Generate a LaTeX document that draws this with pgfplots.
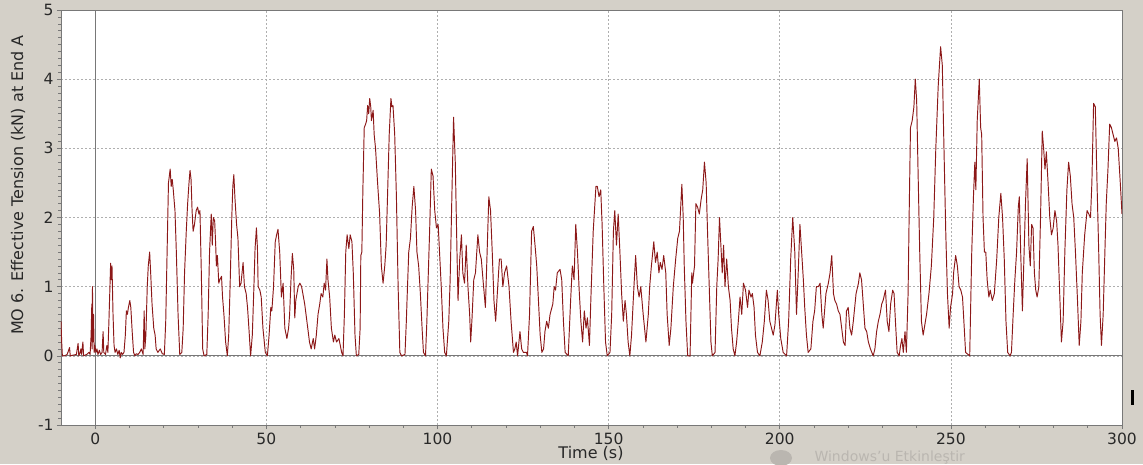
\documentclass[border=0pt]{standalone}
\usepackage{pgfplots}
\pgfplotsset{compat=1.18}
\usepackage{fontspec}
\setmainfont{DejaVu Sans}
\definecolor{panel}{RGB}{212,208,200}
\definecolor{trace}{RGB}{140,24,24}
\definecolor{frame}{RGB}{120,120,120}
\definecolor{gridc}{RGB}{175,175,175}
\definecolor{txt}{RGB}{40,40,40}
\definecolor{overlaygrey}{RGB}{186,182,176}

\begin{document}
\begin{tikzpicture}
% window panel
\clip (0pt,0pt) rectangle (1143pt,464pt);
\fill[panel] (0pt,0pt) rectangle (1143pt,464pt);

\begin{axis}[
  scale only axis,
  width=1061pt, height=415pt,
  at={(61pt,39pt)}, anchor=south west,
  xmin=-10, xmax=300, ymin=-1, ymax=5,
  axis background/.style={fill=white},
  axis line style={frame, line width=0.8pt},
  xtick={0,50,...,300},
  ytick={-1,0,...,5},
  minor x tick num=4,
  minor y tick num=9,
  tick align=outside,
  major tick length=4pt,
  minor tick length=2.5pt,
  tick style={frame, line width=0.6pt},
  xtick pos=bottom, ytick pos=left,
  grid=major,
  major grid style={gridc, dash pattern=on 2pt off 2pt, line width=0.6pt},
  tick label style={font=\fontsize{15.5}{17}\selectfont, text=txt},
  /pgf/number format/assume math mode=true,
  xticklabel style={yshift=0pt},
  yticklabel style={xshift=0pt},
  clip=true,
]
% reference lines through the origin
\draw[frame, line width=0.8pt] (axis cs:-10,0) -- (axis cs:300,0);
\draw[frame, line width=0.8pt] (axis cs:0,-1) -- (axis cs:0,5);

\addplot[trace, line width=0.95pt, no marks, line join=round] coordinates {
(-10,0.5) (-9.8,0.2) (-9.6,0) (-9,0) (-8.2,0.02) (-7.5,0.12) (-7.3,0) (-6.5,0.01) (-5.5,0.02) (-5,0.18) (-4.8,0)
(-4.4,0.05) (-4.2,0.1) (-4,0.02) (-3.6,0.2) (-3.4,0) (-2.5,0.02) (-1.8,0.05) (-1.5,0.02) (-1.2,0.3) (-1,0.75)
(-0.9,0.1) (-0.8,1.0) (-0.7,0.2) (-0.5,0.6) (-0.3,0.05) (-0.1,0.15) (0.2,0.05) (0.5,0.1) (0.8,0.02) (1.2,0.08)
(1.6,0.02) (2,0.05) (2.3,0.35) (2.5,0.05) (3,0.02) (3.4,0.15) (3.7,0.05) (4,0.5) (4.3,1.0) (4.5,1.34) (4.7,1.1)
(4.9,1.3) (5.2,0.6) (5.5,0.15) (5.8,0.05) (6.2,0.1) (6.6,0.02) (7,0.08) (7.3,-0.03) (7.6,0.05) (8,0.02) (8.4,0.05)
(8.8,0.3) (9.1,0.65) (9.4,0.6) (9.7,0.7) (10.1,0.8) (10.4,0.7) (10.8,0.35) (11.2,0.05) (11.6,0) (12,0.03)
(12.5,0.02) (13,0.05) (13.5,0.1) (14,0.02) (14.3,0.65) (14.5,0.1) (14.8,0.3) (15.2,1.0) (15.5,1.3) (15.9,1.5)
(16.2,1.2) (16.6,0.75) (17.1,0.4) (17.5,0.3) (17.8,0.1) (18.3,0.05) (19,0.1) (19.6,0.03) (20.2,0.02) (20.6,0.5)
(21,1.5) (21.4,2.5) (21.9,2.7) (22.2,2.45) (22.5,2.55) (22.8,2.4) (23.3,2.1) (23.7,1.5) (24.2,0.6) (24.7,0.02)
(25.3,0.05) (25.7,0.4) (26.1,1.2) (26.6,1.8) (27,2.2) (27.4,2.5) (27.7,2.68) (28,2.55) (28.3,2.1) (28.6,1.8)
(29,1.9) (29.5,2.1) (29.9,2.15) (30.3,2.05) (30.6,2.1) (31,1.2) (31.4,0.1) (31.8,0) (32.6,0.02) (33.0,0.6)
(33.4,1.5) (33.9,2.05) (34.2,1.6) (34.5,2.0) (34.9,1.95) (35.2,1.6) (35.4,1.3) (35.7,1.45) (36.1,1.05) (36.4,1.1)
(36.9,1.15) (37.2,0.85) (37.6,0.6) (38.1,0.2) (38.6,0) (39.0,0.3) (39.4,1.0) (39.9,2.0) (40.2,2.45) (40.5,2.62)
(40.8,2.3) (41.3,1.9) (41.7,1.7) (42.2,1.0) (42.6,1.05) (42.9,1.2) (43.2,1.35) (43.6,1.0) (44.1,0.9) (44.5,0.7)
(44.9,0.4) (45.4,0) (45.9,0.3) (46.3,0.9) (46.7,1.55) (47.1,1.85) (47.4,1.55) (47.6,1.0) (48.1,0.95) (48.5,0.85)
(49.0,0.4) (49.7,0.05) (50.3,0) (50.8,0.3) (51.3,0.7) (51.6,0.65) (52.1,1.0) (52.6,1.65) (53.0,1.75) (53.4,1.83)
(53.9,1.5) (54.4,0.85) (54.9,1.05) (55.4,0.4) (56.0,0.25) (56.5,0.4) (56.8,0.6) (57.2,1.1) (57.6,1.48) (58.0,1.25)
(58.3,0.55) (58.6,0.8) (59.3,1.0) (59.8,1.05) (60.3,1.0) (61.2,0.75) (62.1,0.4) (62.6,0.2) (63.1,0.1) (63.7,0.25)
(64.1,0.1) (64.6,0.3) (65.1,0.6) (65.6,0.75) (66.0,0.9) (66.5,0.85) (66.9,1.05) (67.3,0.95) (67.7,1.4) (68.0,1.1)
(68.5,0.85) (69.0,0.4) (69.6,0.2) (70.0,0.3) (70.5,0.2) (71.2,0.25) (71.6,0.15) (72.0,0.05) (72.4,0) (72.8,0.6)
(73.2,1.5) (73.6,1.75) (74.1,1.55) (74.5,1.75) (75.0,1.65) (75.4,1.2) (75.9,0.3) (76.3,0) (77.0,0.02) (77.4,0.4)
(77.6,1.45) (77.9,1.5) (78.2,2.4) (78.6,3.3) (79.0,3.35) (79.3,3.4) (79.6,3.62) (79.9,3.5) (80.2,3.72) (80.5,3.6)
(80.7,3.4) (81.2,3.55) (81.5,3.2) (81.9,3.0) (82.5,2.5) (83.1,2.05) (83.6,1.3) (84.1,1.05) (84.6,1.3) (85.0,1.6)
(85.4,2.3) (85.9,3.2) (86.4,3.72) (86.7,3.6) (87.0,3.62) (87.5,3.2) (88.0,2.3) (88.5,1.0) (89.0,0.05) (89.5,0)
(90.5,0.02) (90.9,0.5) (91.1,0.8) (91.6,1.5) (92.1,1.7) (92.6,2.15) (93.1,2.45) (93.6,2.1) (94.0,1.5) (94.5,1.3)
(95.0,0.9) (95.5,0.4) (95.9,0.05) (96.5,0) (96.9,0.5) (97.2,1.0) (97.7,1.8) (98.2,2.7) (98.7,2.6) (99.2,2.1)
(99.7,1.85) (100.2,1.9) (100.6,1.5) (101.1,1.0) (101.6,0.4) (102.1,0.05) (102.6,0) (103.3,0.5) (103.7,1.1)
(104.2,2.3) (104.7,3.45) (105.2,2.8) (105.7,1.5) (106.0,0.8) (106.5,1.4) (107.0,1.75) (107.4,1.2) (107.9,1.05)
(108.4,1.6) (108.9,1.0) (109.4,0.6) (109.7,0.2) (110.1,0.55) (110.6,1.1) (111.1,1.2) (111.8,1.75) (112.3,1.5)
(112.8,1.4) (113.3,1.1) (114.0,0.7) (114.5,1.5) (115.0,2.3) (115.5,2.1) (116.0,1.5) (116.5,0.8) (117.0,0.5)
(117.6,1.0) (118.1,1.4) (118.6,1.4) (119.1,1.0) (119.6,1.2) (120.2,1.3) (120.9,1.0) (121.5,0.5) (122.2,0.05)
(122.6,0.1) (123.0,0.2) (123.4,0) (124.1,0.35) (124.6,0.1) (125.1,0.05) (126.0,0.05) (126.3,0) (126.9,0.6)
(127.5,1.8) (128.0,1.87) (128.5,1.6) (129.0,1.3) (129.5,0.8) (130.0,0.3) (130.5,0.05) (131.0,0.1) (131.4,0.35)
(131.9,0.5) (132.4,0.4) (132.9,0.6) (133.7,0.75) (134.1,1.0) (134.5,0.95) (135.0,1.2) (135.8,1.25) (136.3,1.1)
(136.8,0.5) (137.3,0.05) (138.2,0) (138.9,0.8) (139.4,1.3) (139.9,1.1) (140.4,1.9) (140.9,1.5) (141.4,0.95)
(141.9,0.5) (142.4,0.2) (142.9,0.65) (143.4,0.4) (143.8,0.55) (144.4,0.15) (144.8,0.8) (145.5,1.8) (146.3,2.45)
(146.7,2.45) (147.2,2.3) (147.7,2.4) (148.1,1.9) (148.6,1.0) (149.1,0.2) (149.6,0) (150.4,0.05) (150.9,0.6)
(151.4,1.8) (151.8,2.1) (152.3,1.6) (152.8,2.05) (153.3,1.5) (153.8,0.9) (154.3,0.5) (154.8,0.8) (155.2,0.6)
(155.7,0.2) (156.2,0) (156.7,0.3) (157.4,1.0) (157.9,1.45) (158.4,1.0) (158.9,0.85) (159.4,1.0) (160.1,0.6)
(160.9,0.2) (161.6,0.6) (162.0,1.0) (162.5,1.3) (163.2,1.65) (163.7,1.35) (164.2,1.5) (164.7,1.2) (165.1,1.35)
(165.6,1.25) (166.1,1.45) (166.7,1.2) (167.1,0.6) (167.7,0.15) (168.2,0.4) (168.9,1.0) (169.6,1.4) (170.2,1.7)
(170.7,1.8) (171.4,2.48) (171.8,2.0) (172.1,1.3) (172.6,0.5) (173.1,0) (173.8,0) (174.3,1.2) (174.5,1.05)
(175.1,1.3) (175.5,2.2) (176.0,2.15) (176.5,2.05) (177.0,2.25) (177.5,2.4) (178.0,2.8) (178.5,2.5) (178.9,1.8)
(179.4,1.0) (179.9,0.2) (180.3,0) (181.1,0.05) (181.6,1.0) (182.0,1.4) (182.4,2.0) (182.8,1.6) (183.2,1.2)
(183.6,1.6) (184.0,1.0) (184.5,1.4) (185.0,1.0) (185.5,0.8) (185.9,0.4) (186.4,0.1) (186.9,0) (187.4,0.2)
(187.9,0.5) (188.4,0.85) (188.9,0.6) (189.4,1.05) (190.0,0.95) (190.6,0.7) (191.0,0.95) (191.6,0.85) (192.0,0.9)
(192.5,0.7) (192.9,0.3) (193.5,0.05) (194.2,0) (194.9,0.2) (195.5,0.5) (196.1,0.95) (196.6,0.8) (197.1,0.5)
(197.6,0.4) (198.1,0.3) (198.6,0.45) (199.3,0.95) (199.7,0.6) (200.3,0.25) (201.0,0.05) (202.0,0) (202.6,0.5)
(203.2,1.4) (203.8,2.0) (204.4,1.5) (204.9,0.6) (205.4,1.2) (205.9,1.9) (206.4,1.5) (206.9,1.1) (207.3,0.7)
(207.8,0.3) (208.3,0.05) (209.1,0.1) (209.7,0.5) (210.2,0.65) (210.7,1.0) (211.3,1.0) (211.8,1.05) (212.3,0.6)
(212.7,0.4) (213.5,0.9) (214.2,1.05) (214.7,1.2) (215.2,1.45) (215.7,0.9) (216.1,0.8) (216.6,0.75) (217.1,0.65)
(217.6,0.6) (218.1,0.4) (218.6,0.2) (219.1,0.15) (219.5,0.65) (220.0,0.7) (220.5,0.4) (221.0,0.3) (221.5,0.5)
(222.3,0.9) (223.0,1.05) (223.4,1.2) (223.9,1.1) (224.4,0.75) (224.9,0.4) (225.4,0.35) (225.9,0.2) (226.5,0.1)
(227.3,0) (227.8,0.1) (228.3,0.35) (228.8,0.5) (229.3,0.6) (229.8,0.75) (230.2,0.8) (230.9,0.95) (231.4,0.5)
(231.9,0.35) (232.4,0.75) (233.0,0.95) (233.4,0.9) (233.8,0.5) (234.3,0.05) (234.9,0) (235.3,0.15) (235.7,0.25)
(236.1,0.05) (236.6,0.35) (237.0,0.05) (237.5,0.9) (237.8,2.0) (238.2,3.3) (238.7,3.4) (239.2,3.6) (239.6,4.0)
(240.0,3.7) (240.4,2.7) (240.9,1.5) (241.4,0.5) (241.9,0.3) (242.4,0.45) (242.9,0.6) (243.6,0.9) (244.3,1.3)
(245.0,2.0) (245.6,3.0) (246.3,3.9) (247.0,4.47) (247.5,4.2) (247.9,3.2) (248.5,1.8) (249.0,0.9) (249.5,0.4)
(249.9,0.7) (250.5,0.9) (250.8,1.2) (251.4,1.45) (251.9,1.3) (252.4,1.0) (252.9,0.95) (253.4,0.85) (253.8,0.5)
(254.3,0.05) (255.5,0) (256.1,1.5) (256.6,2.3) (257.0,2.8) (257.3,2.4) (257.7,3.4) (258.3,4.0) (258.7,3.3)
(259.0,3.2) (259.4,2.0) (259.8,1.5) (260.2,1.5) (260.6,1.1) (261.1,0.85) (261.5,0.95) (262.1,0.8) (262.7,0.9)
(263.4,1.4) (264.0,2.0) (264.6,2.35) (265.1,2.0) (265.6,1.4) (266.1,0.5) (266.6,0.05) (267.3,0) (267.7,0.05)
(268.2,0.6) (268.7,1.1) (269.2,1.5) (269.7,2.15) (270.0,2.3) (270.4,1.5) (270.9,0.65) (271.4,1.5) (271.8,2.2)
(272.3,2.85) (272.8,1.6) (273.2,1.3) (273.6,1.9) (274.0,1.85) (274.4,1.2) (274.8,0.95) (275.2,0.85) (275.7,1.0)
(276.2,2.0) (276.7,3.25) (277.1,3.0) (277.5,2.7) (277.9,2.95) (278.4,2.5) (278.9,2.0) (279.4,1.75) (279.9,1.85)
(280.4,2.1) (280.9,1.95) (281.3,1.6) (281.8,0.9) (282.3,0.2) (282.8,0.5) (283.3,1.5) (283.9,2.4) (284.4,2.8)
(284.9,2.6) (285.4,2.2) (285.9,2.0) (286.4,1.5) (287.0,0.8) (287.5,0.15) (288.0,0.5) (288.4,1.2) (289.1,1.75)
(289.8,2.1) (290.3,2.05) (290.8,2.0) (291.2,2.5) (291.7,3.65) (292.2,3.6) (292.7,2.5) (293.2,1.5) (293.6,0.6)
(294.0,0.15) (294.5,0.6) (295.0,1.5) (295.4,2.2) (295.9,2.7) (296.4,3.35) (296.9,3.3) (297.4,3.2) (297.9,3.1)
(298.4,3.15) (298.9,3.0) (299.5,2.5) (300,2.05)
};
\end{axis}

% axis titles
\node[rotate=90, text=txt, font=\fontsize{16}{18}\selectfont] at (18pt,279pt)
  {MO 6. Effective Tension (kN) at End A};
\node[text=txt, font=\fontsize{16}{18}\selectfont] at (591pt,11pt) {Time (s)};

% faint system overlay along the lower edge
\fill[overlaygrey] (781pt,6pt) ellipse (11pt and 8pt);
\node[text=overlaygrey, font=\fontsize{14}{16}\selectfont, anchor=west] at (811pt,6pt)
  {Windows'u Etkinleştir};
\fill[black] (1131pt,59pt) rectangle (1134pt,74pt);
\end{tikzpicture}
\end{document}
